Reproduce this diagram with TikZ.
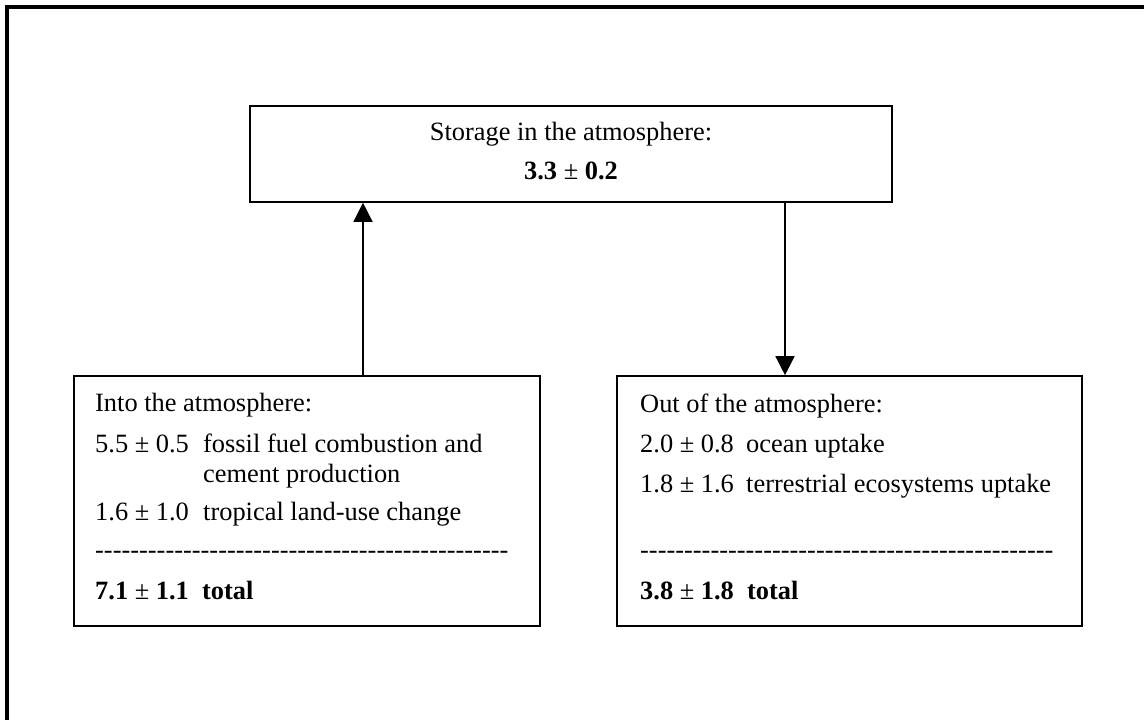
\documentclass[tikz,border=0pt]{standalone}
\usepackage{fontspec}
\setmainfont{Liberation Serif}
\usetikzlibrary{arrows.meta}
\newcommand\dashrow[1]{\foreach \i in {1,...,#1}{-{}}}
\begin{document}
\begin{tikzpicture}[x=1pt,y=-1pt,
  every node/.style={font=\fontsize{26.4}{30}\selectfont},
  box/.style={draw,line width=1.6pt,inner sep=0pt},
  txt/.style={inner sep=0pt,anchor=base west},
  ctxt/.style={inner sep=0pt,anchor=base},
  arr/.style={line width=1.4pt,-{Triangle[width=19pt,length=19pt]}}]
\useasboundingbox (0,0) rectangle (1144,720);
% outer frame (only top and left edges visible)
\draw[line width=4pt] (7,722) -- (7,7) -- (1146,7);
% boxes
\node[box,minimum width=642pt,minimum height=96pt] (top) at (571,154) {};
\node[box,minimum width=466pt,minimum height=250pt] (left) at (307,501) {};
\node[box,minimum width=465pt,minimum height=250pt] (right) at (849.5,501) {};
% top box text
\node[ctxt] (t1) at (571,140) {Storage in the atmosphere:};
\node[ctxt] (t2) at (571,179) {\textbf{3.3} ± \textbf{0.2}};
% left box text
\node[txt] (l1) at (95,411) {Into the atmosphere:};
\node[txt] (l2a) at (95,452) {5.5 ± 0.5};
\node[txt] (l2b) at (203,452) {fossil fuel combustion and};
\node[txt] (l2c) at (203,482) {cement production};
\node[txt] (l3a) at (95,520) {1.6 ± 1.0};
\node[txt] (l3b) at (203,520) {tropical land-use change};
\node[txt] (l4) at (95,558) {\dashrow{47}};
\node[txt] (l5) at (95,599) {\textbf{7.1} ± \textbf{1.1}\ \ \textbf{total}};
% right box text
\node[txt] (r1) at (640,412) {Out of the atmosphere:};
\node[txt] (r2a) at (640,452) {2.0 ± 0.8};
\node[txt] (r2b) at (746,452) {ocean uptake};
\node[txt] (r3a) at (640,492) {1.8 ± 1.6};
\node[txt] (r3b) at (746,492) {terrestrial ecosystems uptake};
\node[txt] (r4) at (640,558) {\dashrow{47}};
\node[txt] (r5) at (640,599) {\textbf{3.8} ± \textbf{1.8}\ \ \textbf{total}};
% arrows
\coordinate (upx) at (363,0);
\coordinate (downx) at (785,0);
\draw[arr] (left.north -| upx) -- (top.south -| upx);
\draw[arr] (top.south -| downx) -- (right.north -| downx);
\end{tikzpicture}
\end{document}
